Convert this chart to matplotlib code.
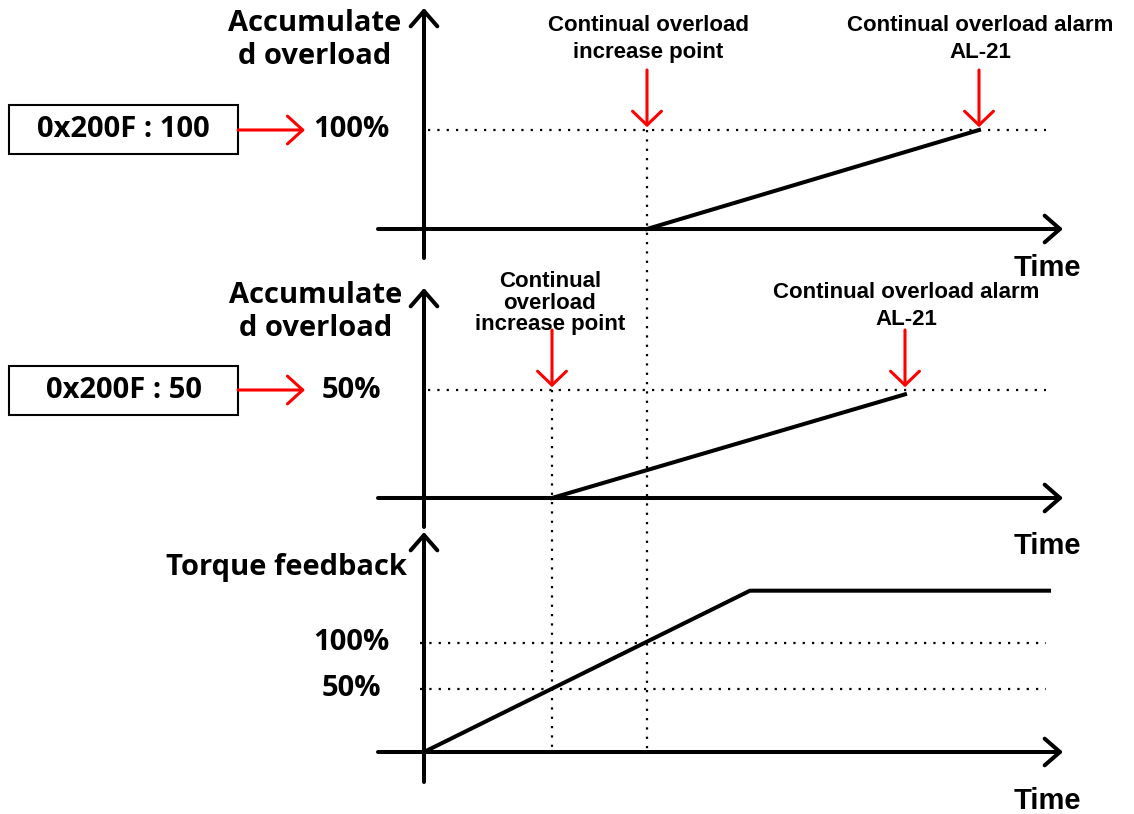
import matplotlib
matplotlib.use("Agg")
import matplotlib.pyplot as plt
from matplotlib.patches import Rectangle

W, H = 1134, 814
X0 = 424          # pixel column of the vertical axes
PX_PER_T = 10     # pixels per time unit

# time axis (arbitrary units, 0 = vertical axes)
t_axis = [-4.6, 63.9]
t_increase_100 = 22.3   # torque crosses 100 %
t_increase_50 = 12.8    # torque crosses 50 %
t_alarm_100 = 55.5
t_alarm_50 = 48.1
t_guide_end = 62.2

# accumulated overload, 0x200F = 100
acc100_t = [t_increase_100, t_alarm_100]
acc100_v = [0, 100]
# accumulated overload, 0x200F = 50
acc50_t = [t_increase_50, t_alarm_50]
acc50_v = [0, 48]

# torque feedback
torque_t = [0, 32.6, 62.5]
torque_v = [0, 148, 148]
torque_guides = [100, 58]
torque_labels = ["100%", "50%"]

settings = ["0x200F : 100", "0x200F : 50"]
setting_levels = [100, 50]
setting_labels = ["100%", "50%"]

TITLE_FONT = dict(family="Open Sans", weight="bold", size=21)
NOTE_FONT = dict(family="Liberation Sans", weight="bold", size=16)
TIME_FONT = dict(family="Liberation Sans", weight="bold", size=21)
DOTS = (0, (1, 3.2))
LW = 2.9

fig = plt.figure(figsize=(W / 100, H / 100), dpi=100)


def make_panel(base_px, px_per_unit):
    ax = fig.add_axes([0, 0, 1, 1])
    ax.set_xlim(-X0 / PX_PER_T, (W - X0) / PX_PER_T)
    ax.set_ylim(-(H - base_px) / px_per_unit, base_px / px_per_unit)
    ax.set_axis_off()
    ax.patch.set_alpha(0)
    return ax


def axis_arrows(ax, base_px, scale, top_px, bottom_px):
    head = dict(arrowstyle="->,head_length=0.55,head_width=0.48", lw=LW,
                color="black", shrinkA=0, shrinkB=0, mutation_scale=20)
    ax.annotate("", xy=(t_axis[1], 0), xytext=(t_axis[0], 0), arrowprops=head)
    ax.annotate("", xy=(0, (base_px - top_px) / scale),
                xytext=(0, (base_px - bottom_px) / scale), arrowprops=head)


def red_down(ax, t, level, length=60):
    ax.annotate("", xy=(t, level), xytext=(0, length), textcoords="offset pixels",
                arrowprops=dict(arrowstyle="->,head_length=0.5,head_width=0.52",
                                color="red", lw=2.2, shrinkA=0, shrinkB=2,
                                mutation_scale=20))


def note(ax, text, t, level, dx, dy, spacing=1.4):
    ax.annotate(text, xy=(t, level), xytext=(dx, dy), textcoords="offset pixels",
                ha="center", va="center", multialignment="center",
                linespacing=spacing, **NOTE_FONT)


def guide(ax, level, start=0.4):
    ax.plot([start, t_guide_end], [level, level], color="black", lw=1.6,
            linestyle=DOTS)


def setting_box(ax, text, level, label, scale):
    half = 24.5 / scale
    ax.add_patch(Rectangle((-41.5, level - half), 22.9, 2 * half, fill=False,
                           edgecolor="black", lw=1.5))
    ax.text(-30.05, level, text, ha="center", va="center", **TITLE_FONT)
    ax.annotate("", xy=(-11.9, level), xytext=(-18.6, level),
                arrowprops=dict(arrowstyle="->,head_length=0.55,head_width=0.5",
                                color="red", lw=2.2, shrinkA=0, shrinkB=0,
                                mutation_scale=20))
    ax.annotate(label, xy=(0, level), xytext=(-73, 0), textcoords="offset pixels",
                ha="center", va="center", **TITLE_FONT)


panels = [make_panel(229, 0.99), make_panel(498, 2.16), make_panel(752, 1.09)]
ax1, ax2, ax3 = panels

# panel 1: 0x200F = 100
axis_arrows(ax1, 229, 0.99, 8, 258)
guide(ax1, setting_levels[0])
ax1.plot(acc100_t, acc100_v, color="black", lw=LW)
setting_box(ax1, settings[0], setting_levels[0], setting_labels[0], 0.99)
red_down(ax1, t_increase_100, setting_levels[0])
red_down(ax1, t_alarm_100, acc100_v[-1])
note(ax1, "Continual overload\nincrease point", t_increase_100, 100, 1, 91)
note(ax1, "Continual overload alarm\nAL-21", t_alarm_100, 100, 1, 91)
ax1.annotate("Accumulate\nd overload", xy=(0, 0), xytext=(-109, 189),
             textcoords="offset pixels", ha="center", va="center",
             multialignment="center", linespacing=1.22, **TITLE_FONT)
ax1.annotate("Time", xy=(0, 0), xytext=(623, -39), textcoords="offset pixels",
             ha="center", va="center", **TIME_FONT)

# panel 2: 0x200F = 50
axis_arrows(ax2, 498, 2.16, 288, 527)
guide(ax2, setting_levels[1])
ax2.plot(acc50_t, acc50_v, color="black", lw=LW)
setting_box(ax2, settings[1], setting_levels[1], setting_labels[1], 2.16)
red_down(ax2, t_increase_50, setting_levels[1])
red_down(ax2, t_alarm_50, setting_levels[1])
note(ax2, "Continual\noverload\nincrease point", t_increase_50, 50, -2, 87,
     spacing=1.02)
note(ax2, "Continual overload alarm\nAL-21", t_alarm_50, 50, 1, 84)
ax2.annotate("Accumulate\nd overload", xy=(0, 0), xytext=(-108, 186),
             textcoords="offset pixels", ha="center", va="center",
             multialignment="center", linespacing=1.22, **TITLE_FONT)
ax2.annotate("Time", xy=(0, 0), xytext=(623, -48), textcoords="offset pixels",
             ha="center", va="center", **TIME_FONT)

# panel 3: torque feedback
axis_arrows(ax3, 752, 1.09, 532, 782)
for level, label in zip(torque_guides, torque_labels):
    guide(ax3, level, start=-0.4)
    ax3.annotate(label, xy=(0, level), xytext=(-73, 0), textcoords="offset pixels",
                 ha="center", va="center", **TITLE_FONT)
ax3.plot(torque_t, torque_v, color="black", lw=LW)
ax3.annotate("Torque feedback", xy=(0, 0), xytext=(-138, 185),
             textcoords="offset pixels", ha="center", va="center", **TITLE_FONT)
ax3.annotate("Time", xy=(0, 0), xytext=(623, -49), textcoords="offset pixels",
             ha="center", va="center", **TIME_FONT)

# dotted drop lines from the increase points down to the torque baseline
for t, ax_from, level in [(t_increase_100, ax1, setting_levels[0]),
                          (t_increase_50, ax2, setting_levels[1])]:
    disp = ax_from.transData.transform((t, level))
    top = ax3.transData.inverted().transform(disp)[1]
    ax3.plot([t, t], [top, 0], color="black", lw=1.6, linestyle=DOTS,
             clip_on=False)

fig.savefig("out.png", dpi=100)
